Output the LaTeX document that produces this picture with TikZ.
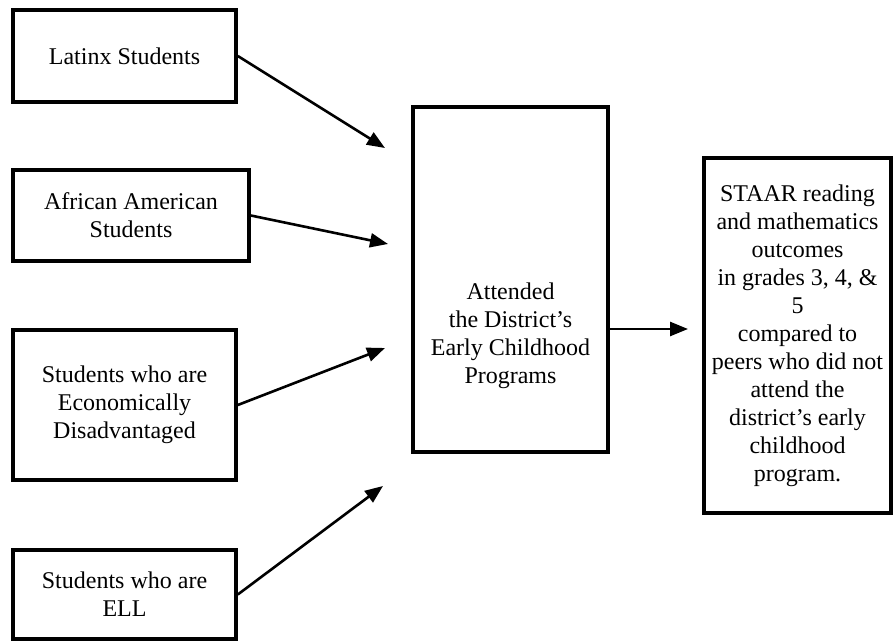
\documentclass[tikz,border=0pt]{standalone}
\usepackage{fontspec}
\setmainfont{Liberation Serif}
\usetikzlibrary{arrows.meta,positioning}

\begin{document}
\begin{tikzpicture}[x=0.5pt,y=-0.5pt,
    group/.style={draw,line width=1.8pt,minimum width=111.5pt,align=center,
                  inner sep=0pt,font=\fontsize{12}{14}\selectfont},
    words/.style={align=center,inner sep=0pt,font=\fontsize{12}{14}\selectfont},
    arr/.style={-{Triangle[length=9pt,width=7pt]},line width=1.3pt}]

  \useasboundingbox (0,0) rectangle (893,641);

  \node[group,minimum height=46pt] (latinx) at (124.5,56) {Latinx Students};
  \node[group,minimum width=118pt,minimum height=45.5pt] (afam) at (131,215.5)
    {African American\\Students};
  \node[group,minimum height=75pt] (econ) at (124.5,405)
    {Students who are\\Economically\\Disadvantaged};
  \node[group,minimum height=44.5pt] (ell) at (124.5,594.5)
    {Students who are\\ELL};

  \node[group,minimum width=97.5pt,minimum height=172.5pt] (prog) at (510.5,279.5) {};
  \node[words] (progtext) at (510.5,336)
    {Attended\\the District's\\Early Childhood\\Programs};

  \node[group,minimum width=93.5pt,minimum height=177.5pt] (staar) at (797.5,335.5)
    {STAAR reading\\and mathematics\\outcomes\\in grades 3, 4, \&\\5\\compared to\\
     peers who did not\\attend the\\district's early\\childhood\\program.};

  \coordinate (t1) at (385,148);
  \coordinate (t2) at (388,244);
  \coordinate (t3) at (385,348);
  \coordinate (t4) at (383,486);
  \coordinate (t5) at (688,329);

  \draw[arr] (latinx.east) -- (t1);
  \draw[arr] (afam.east) -- (t2);
  \draw[arr] (econ.east) -- (t3);
  \draw[arr] (ell.east) -- (t4);
  \draw[arr] (prog.east |- t5) -- (t5);

\end{tikzpicture}
\end{document}
